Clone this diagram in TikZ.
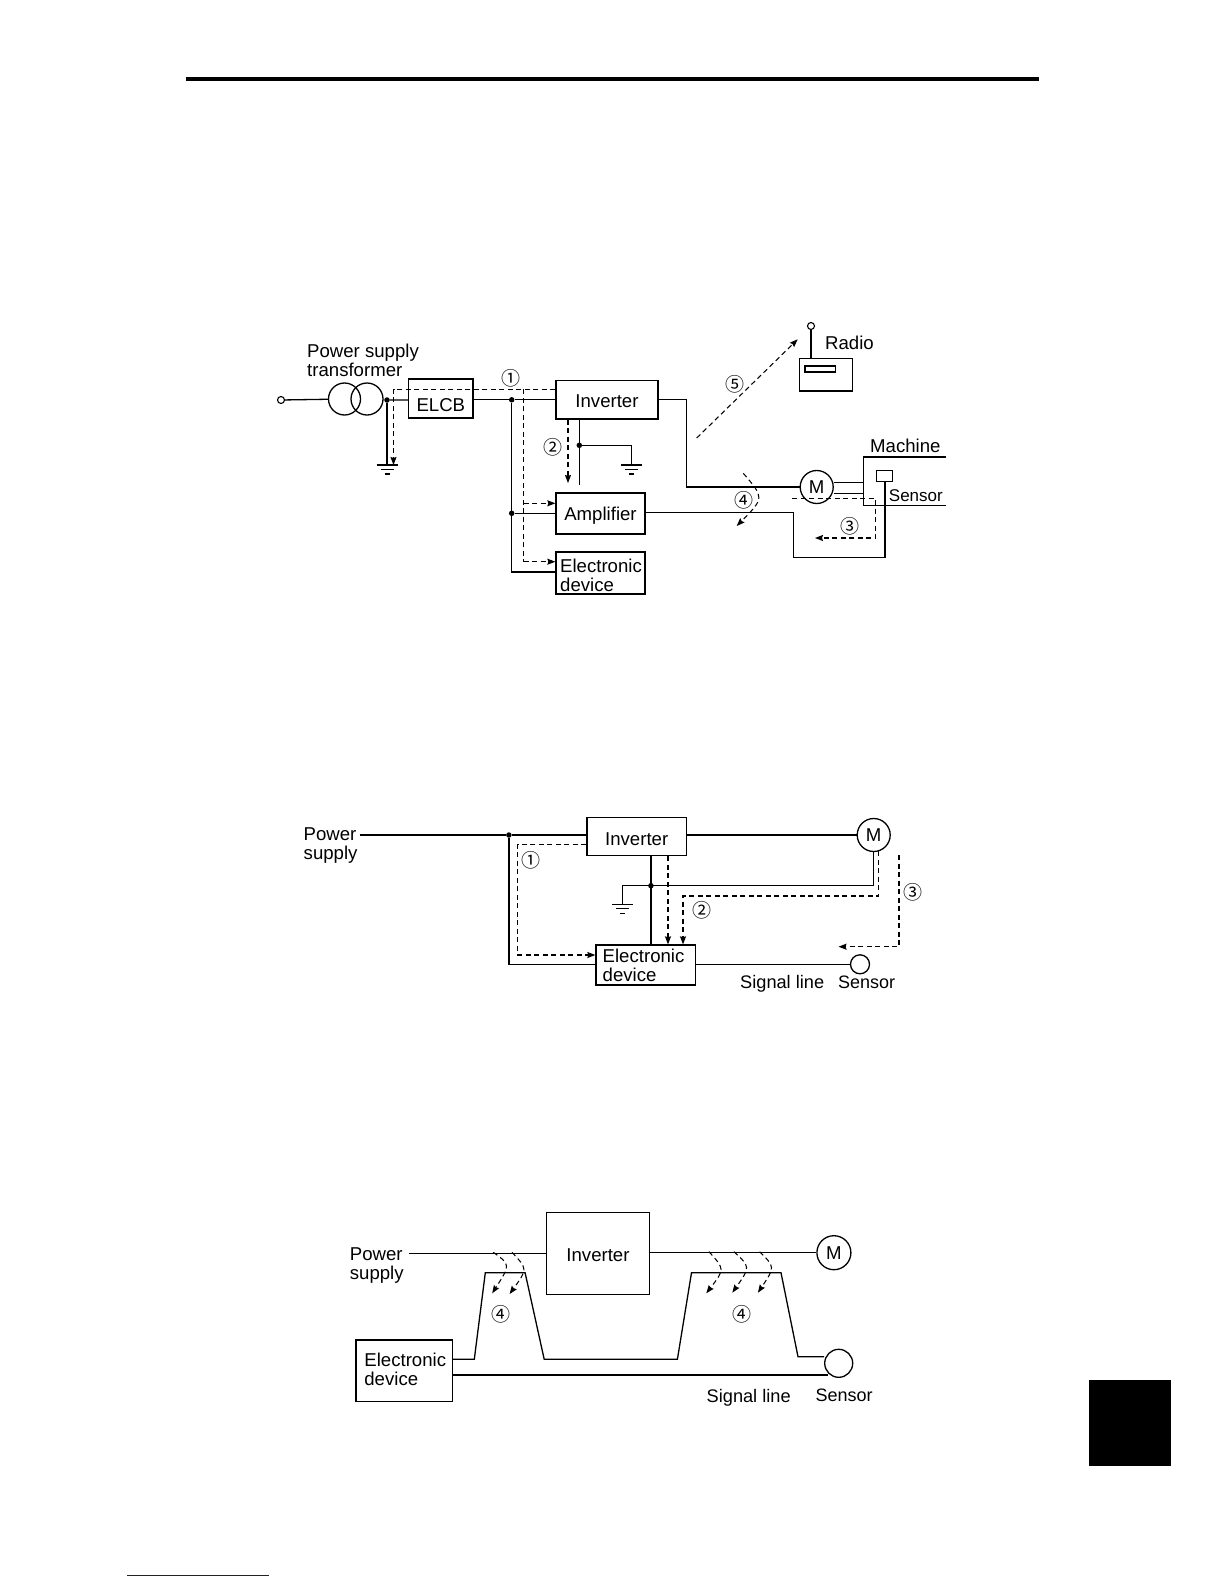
\documentclass[tikz,border=0pt]{standalone}
\usepackage{fontspec}
\setmainfont{Liberation Sans}
\newfontfamily\circfont{Noto Sans CJK JP}
\usetikzlibrary{arrows.meta,calc}
\newcommand{\boxtext}[2]{\raisebox{-#1pt}[0pt][0pt]{#2}}
\tikzset{
  wire/.style={line width=1.3pt,black},
  leak/.style={line width=1.05pt,black,dash pattern=on 5pt off 3.5pt},
  leakarrow/.style={leak,-{Stealth[length=8pt,width=6pt,inset=1pt]}},
  boxn/.style={draw,line width=1.3pt,rectangle,inner sep=0pt,fill=white},
  circn/.style={draw,line width=1.3pt,circle,inner sep=0pt,fill=white},
  terminal/.style={draw,line width=1.1pt,circle,inner sep=0pt,minimum size=7pt,fill=white},
  junction/.style={circle,fill=black,inner sep=0pt,minimum size=5.5pt},
  lbl/.style={inner sep=0pt,font=\fontsize{18.6}{19}\selectfont,align=left},
  num/.style={inner sep=0pt,font=\circfont\fontsize{19}{19}\selectfont},
  earth/.pic={\draw[line width=1.3pt] (-10.5,0)--(10.5,0);
              \draw[line width=1.3pt] (-6.5,4.5)--(6.5,4.5);
              \draw[line width=1.3pt] (-2.5,9)--(2.5,9);}
}
\begin{document}
\begin{tikzpicture}[x=1pt,y=-1pt]
\useasboundingbox (0,0) rectangle (1224,1584);
% page furniture
\fill[black] (186,77) rectangle (1039,81);
\fill[black] (1089,1380) rectangle (1171,1466);
\draw[line width=1.4pt,color={rgb,255:red,10;green,20;blue,170}] (127,1575.3) -- (269,1575.3);

%%%%%%%%%%%%% diagram 1
\node[terminal] (term) at (281,400) {};
\node[circn,minimum size=32pt,fill=none] (tl) at (344.5,399) {};
\node[circn,minimum size=32pt,fill=none] (tr) at (367,399) {};
\node[junction] (j1) at (387,400) {};
\node[boxn,minimum width=64.3pt,minimum height=39pt,lbl] (elcb) at (440.85,398.5) {\boxtext{13.2}{ELCB}};
\node[junction] (j2) at (511.7,399.8) {};
\node[boxn,minimum width=102pt,minimum height=38.3pt,lbl] (inv1) at (607,399.85) {\boxtext{7.85}{Inverter}};
\node[boxn,minimum width=89pt,minimum height=41pt,lbl] (amp) at (600.5,513.5) {\boxtext{7.2}{Amplifier}};
\node[boxn,minimum width=89pt,minimum height=42pt] (ed1) at (600.5,573) {};
\node[lbl,anchor=north west] (ed1t) at (560,558.7) {Electronic\\device};
\node[junction] (j3) at (511.7,513.3) {};
\node[junction] (j4) at (579.3,445.3) {};
\coordinate (c1) at (511.7,572);
\coordinate (g1) at (387,465);
\coordinate (g2) at (631.7,465);
\coordinate (c2) at (631.7,445.3);
\coordinate (c3) at (579.3,485.3);
\coordinate (c4) at (686.5,399.8);
\node[circn,minimum size=33pt] (m1) at (816.7,487) {\fontsize{18.6}{19}\selectfont M};
\coordinate (c5) at (686.5,487);
\node[terminal] (ant) at (811,326) {};
\node[boxn,minimum width=53pt,minimum height=32.7pt] (radio) at (825.8,374.7) {};
\node[boxn,minimum width=30.7pt,minimum height=6pt] (tuner) at (820.3,369) {};
\node[lbl,anchor=base west] (radiot) at (825,349) {Radio};
\node[lbl,anchor=base west] (machinet) at (870,452.3) {Machine};
\coordinate (ma) at (946,457);
\coordinate (mb) at (863.3,457);
\coordinate (mc) at (863.3,505.7);
\coordinate (md) at (946,505.7);
\coordinate (sh1) at (863.3,482.7);
\coordinate (sh2) at (863.3,493.3);
\node[boxn,minimum width=16pt,minimum height=11pt] (sens1) at (884.7,476.2) {};
\node[lbl,anchor=base west,font=\fontsize{17}{18}\selectfont] (sens1t) at (888.7,501.3) {Sensor};
\coordinate (e1) at (793.7,512.7);
\coordinate (e2) at (793.7,557.3);
\coordinate (e3) at (885,557.3);
\node[lbl,anchor=north west] (pst) at (307,344.2) {Power supply\\transformer};

\draw[wire] (term) -- (tl);
\draw[wire] (tr) -- (j1) -- (elcb.west |- j1);
\draw[wire] (elcb.east |- j2) -- (j2) -- (inv1.west |- j2);
\draw[wire] (j1) -- (g1);
\pic at (g1) {earth};
\draw[wire] (j2) -- (c1) -- (ed1.west |- c1);
\draw[wire] (j3) -- (amp.west |- j3);
\draw[wire] (inv1.south -| j4) -- (c3);
\draw[wire] (j4) -- (c2) -- (g2);
\pic at (g2) {earth};
\draw[wire] (inv1.east |- c4) -- (c4) -- (c5) -- (m1);
\draw[wire] (ant) -- (ant |- radio.north);
\draw[wire] (ma) -- (mb) -- (mc) -- (md);
\draw[wire] (sh1 -| m1.east) -- (sh1);
\draw[wire] (sh2 -| m1.east) -- (sh2);
\draw[wire] (amp.east |- e1) -- (e1) -- (e2) -- (e3) -- (sens1.south -| e3);
% leakage paths
\coordinate (l1) at (393.5,389.3);
\coordinate (l2) at (393.5,465);
\coordinate (l3) at (523.5,389.3);
\coordinate (l4) at (523.5,503.3);
\coordinate (l5) at (523.5,561.7);
\coordinate (l6) at (568,483);
\coordinate (l7) at (696.7,438);
\coordinate (l8) at (797.7,339.3);
\coordinate (l9) at (792,498.7);
\coordinate (l10) at (875.7,498.7);
\coordinate (l11) at (875.7,538);
\coordinate (l12) at (815,538);
\coordinate (l13) at (743.3,473.3);
\coordinate (l14) at (764.4,497.9);
\coordinate (l15) at (736.7,526);
\draw[leakarrow] (inv1.west |- l1) -- (l1) -- (l2);
\draw[leak] (l3) -- (l5);
\draw[leakarrow] (l4) -- (amp.west |- l4);
\draw[leakarrow] (l5) -- (ed1.west |- l5);
\draw[leakarrow] (inv1.south -| l6) -- (l6);
\draw[leakarrow] (l7) -- (l8);
\draw[leakarrow] (l9) -- (l10) -- (l11) -- (l12);
\draw[leakarrow] (l13) .. controls (l14) .. (l15);
\node[num] (n11) at (511,378) {①};
\node[num] (n12) at (553.3,447.7) {②};
\node[num] (n13) at (850,526.7) {③};
\node[num] (n14) at (744,500) {④};
\node[num] (n15) at (735,384) {⑤};

%%%%%%%%%%%%% diagram 2
\node[lbl,anchor=north west] (ps2) at (303.5,827.8) {Power\\supply};
\coordinate (p2) at (359.7,835);
\node[junction] (j5) at (508.9,835) {};
\node[boxn,minimum width=99.5pt,minimum height=38pt,lbl] (inv2) at (636.7,836.7) {\boxtext{8.3}{Inverter}};
\node[circn,minimum size=33pt] (m2) at (873.7,835) {\fontsize{18.6}{19}\selectfont M};
\node[boxn,minimum width=99.6pt,minimum height=40pt] (ed2) at (645.8,965) {};
\node[lbl,anchor=north west] (ed2t) at (602.5,949.3) {Electronic\\device};
\node[junction] (j6) at (650.9,885.7) {};
\coordinate (c6) at (508.9,964.3);
\coordinate (g3) at (622.5,904.3);
\coordinate (c7) at (622.5,885.7);
\coordinate (c8) at (873.7,885.7);
\node[circn,minimum size=19pt] (s2) at (860,964.3) {};
\node[lbl,anchor=base west,font=\fontsize{18.2}{19}\selectfont] (sl2) at (740,988.3) {Signal line};
\node[lbl,anchor=base west,font=\fontsize{18}{19}\selectfont] (st2) at (838,988) {Sensor};
\draw[wire] (p2) -- (j5) -- (inv2.west |- j5);
\draw[wire] (inv2.east |- m2) -- (m2);
\draw[wire] (j5) -- (c6) -- (ed2.west |- c6);
\draw[wire] (inv2.south -| j6) -- (ed2.north -| j6);
\draw[wire] (g3) -- (c7) -- (c8) -- (m2);
\pic at (g3) {earth};
\draw[wire] (ed2.east |- s2) -- (s2);
\coordinate (a1) at (517.9,844.3);
\coordinate (a2) at (517.9,955);
\coordinate (a3) at (668,856);
\coordinate (a4) at (878.8,851);
\coordinate (a5) at (878.8,896);
\coordinate (a6) at (683,896);
\coordinate (a7) at (899,855);
\coordinate (a8) at (899,946.7);
\coordinate (a9) at (838.5,946.7);
\draw[leakarrow] (inv2.west |- a1) -- (a1) -- (a2) -- (ed2.west |- a2);
\draw[leakarrow] (a3) -- (ed2.north -| a3);
\draw[leakarrow] (a4) -- (a5) -- (a6) -- (ed2.north -| a6);
\draw[leakarrow] (a7) -- (a8) -- (a9);
\node[num] (n21) at (531,860) {①};
\node[num] (n22) at (701.5,910) {②};
\node[num] (n23) at (913,892.3) {③};

%%%%%%%%%%%%% diagram 3
\node[lbl,anchor=north west] (ps3) at (349.7,1247.8) {Power\\supply};
\coordinate (p3) at (408.5,1253.3);
\node[boxn,minimum width=102.8pt,minimum height=81.6pt,lbl] (inv3) at (598,1253.5) {\boxtext{8.2}{Inverter}};
\node[circn,minimum size=34pt] (m3) at (833.9,1252.7) {\fontsize{18.6}{19}\selectfont M};
\node[boxn,minimum width=96.6pt,minimum height=61.7pt] (ed3) at (404.2,1370.8) {};
\node[lbl,anchor=north west] (ed3t) at (364.2,1353.2) {Electronic\\device};
\node[circn,minimum size=28pt] (s3) at (838.7,1363.3) {};
\foreach \n/\x/\y in {1/474.3/1359.3,2/485.3/1272.7,3/525.1/1272.7,4/544.2/1359.3,5/677.4/1359.3,6/691.5/1272.7,7/781/1272.7,8/798/1356.7}
  \coordinate (t\n) at (\x,\y);
\coordinate (t0) at (452.5,1375);
\node[lbl,anchor=base west,font=\fontsize{18.2}{19}\selectfont] (sl3) at (706.5,1402.3) {Signal line};
\node[lbl,anchor=base west,font=\fontsize{18}{19}\selectfont] (st3) at (815.5,1401) {Sensor};
\draw[wire] (p3) -- (inv3.west |- p3);
\draw[wire] (inv3.east |- m3) -- (m3);
\draw[wire] (ed3.east |- t1) -- (t1) -- (t2) -- (t3) -- (t4) -- (t5) -- (t6) -- (t7) -- (t8) -- (s3.west |- t8);
\draw[wire] (t0) -- (s3.south west |- t0);
\foreach \sx/\sy/\cx/\cy/\ex/\ey in {
  493.3/1252.3/510.5/1264.7/492.2/1293.3,
  512/1252.3/527.6/1269/509.6/1294,
  709/1251.7/724.8/1269.2/706.3/1293.3,
  734/1251.7/750.4/1267/732.3/1292.7,
  759.6/1251.7/775.1/1267/757.9/1292.7}
  \draw[leakarrow] (\sx,\sy) .. controls (\cx,\cy) .. (\ex,\ey);
\node[num] (n31) at (500.9,1314.3) {④};
\node[num] (n32) at (742,1314.3) {④};
\end{tikzpicture}
\end{document}
